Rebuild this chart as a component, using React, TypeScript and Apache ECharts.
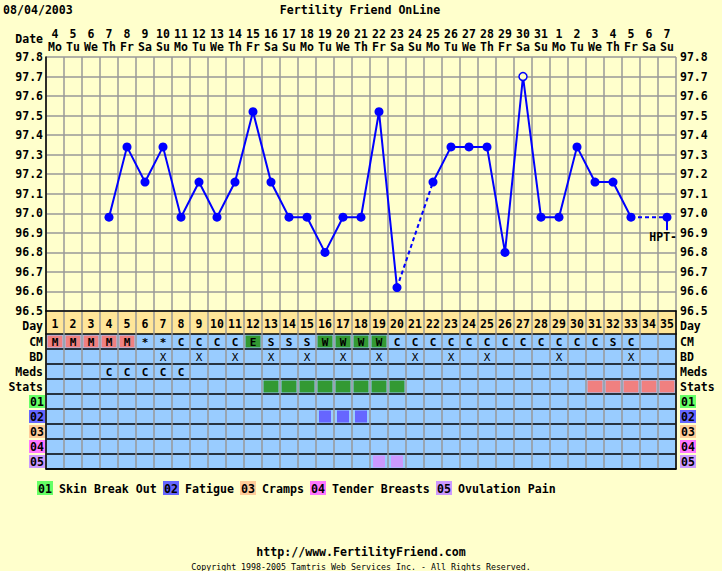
import React, { useEffect, useRef } from 'react';
import * as echarts from 'echarts';

const dateNums = ['4','5','6','7','8','9','10','11','12','13','14','15','16','17','18','19','20','21','22','23','24','25','26','27','28','29','30','31','1','2','3','4','5','6','7'];
const weekdays = ['Mo','Tu','We','Th','Fr','Sa','Su','Mo','Tu','We','Th','Fr','Sa','Su','Mo','Tu','We','Th','Fr','Sa','Su','Mo','Tu','We','Th','Fr','Sa','Su','Mo','Tu','We','Th','Fr','Sa','Su'];
const cycleDays = Array.from({ length: 35 }, (_, i) => String(i + 1));
const temps: (number | null)[] = [null, null, null, 96.98, 97.34, 97.16, 97.34, 96.98, 97.16, 96.98, 97.16, 97.52, 97.16, 96.98, 96.98, 96.8, 96.98, 96.98, 97.52, 96.62, null, 97.16, 97.34, 97.34, 97.34, 96.8, 97.7, 96.98, 96.98, 97.34, 97.16, 97.16, 96.98, null, 96.98];
const hollowDays = [27];
const hptDay = 35;
const hptLabel = 'HPT-';
const tempTicks = { min: 96.5, max: 97.8, interval: 0.1 };

const rowLabels = ['CM', 'BD', 'Meds', 'Stats', '01', '02', '03', '04', '05'];
const cmValues = ['M','M','M','M','M','*','*','C','C','C','C','E','S','S','S','W','W','W','W','C','C','C','C','C','C','C','C','C','C','C','C','S','C','',''];
const cmColors: Record<string, string> = { M: '#f08080', E: '#339933', W: '#339933' };
const bdDays = [7, 9, 11, 13, 15, 17, 19, 21, 23, 25, 29, 33];
const medsDays = [4, 5, 6, 7, 8];
const statsFertileDays = [13, 14, 15, 16, 17, 18, 19, 20];
const statsPredictedDays = [31, 32, 33, 34, 35];
const symptomCodes = ['01', '02', '03', '04', '05'];
const symptomNames = ['Skin Break Out', 'Fatigue', 'Cramps', 'Tender Breasts', 'Ovulation Pain'];
const symptomColors = ['#66ff66', '#6666ff', '#ffcc99', '#ff77ff', '#cc99ff'];
const symptomDays: number[][] = [[], [16, 17, 18], [], [], [19, 20]];

const FONT = '"DejaVu Sans Mono", monospace';
const BG = '#ffffcc';
const GRIDC = '#999999';
const BLUE = '#0000ff';

export default function App() {
  const ref = useRef<HTMLDivElement>(null);
  useEffect(() => {
    document.body.style.margin = '0';
    const chart = echarts.init(ref.current!, undefined, { renderer: 'svg' });

    type Cell = { x: number; y: number; text: string; fill: string; kind: string };
    const cells: Cell[] = [];
    cmValues.forEach((v, i) => {
      if (v) cells.push({ x: i, y: 0, text: v, fill: cmColors[v] || '', kind: 'cm' });
    });
    bdDays.forEach((d) => cells.push({ x: d - 1, y: 1, text: 'X', fill: '', kind: 'bd' }));
    medsDays.forEach((d) => cells.push({ x: d - 1, y: 2, text: 'C', fill: '', kind: 'cm' }));
    statsFertileDays.forEach((d) => cells.push({ x: d - 1, y: 3, text: '', fill: '#339933', kind: 'stat' }));
    statsPredictedDays.forEach((d) => cells.push({ x: d - 1, y: 3, text: '', fill: '#f08080', kind: 'stat' }));
    symptomDays.forEach((days, si) => days.forEach((d) => cells.push({ x: d - 1, y: 4 + si, text: '', fill: symptomColors[si], kind: 'sym' })));

    const lineData = temps.map((t, i) => {
      if (t == null) return null;
      if (hollowDays.includes(i + 1)) {
        return { value: t, symbolSize: 8, itemStyle: { color: BG, borderColor: BLUE, borderWidth: 1.5 } };
      }
      return t;
    });
    const gapSeries: any[] = [];
    for (let i = 0; i < temps.length; i++) {
      if (temps[i] != null && i + 1 < temps.length && temps[i + 1] == null) {
        let j = i + 1;
        while (j < temps.length && temps[j] == null) j++;
        if (j < temps.length) {
          const d = temps.map((t, k) => (k === i || k === j ? t : null));
          gapSeries.push({
            type: 'line', xAxisIndex: 0, yAxisIndex: 0, data: d, connectNulls: true, showSymbol: false,
            lineStyle: { color: BLUE, width: 2, type: [4, 3] }, z: 3, silent: true,
          });
        }
      }
    }

    const rich: any = {
      t: { fontFamily: FONT, fontWeight: 'bold', fontSize: 11.5, color: '#000', padding: [0, 2, 0, 0], lineHeight: 10 },
      tr: { fontFamily: FONT, fontWeight: 'bold', fontSize: 11.5, color: '#000', lineHeight: 10 },
    };
    symptomCodes.forEach((c, i) => {
      rich['s' + i] = { fontFamily: FONT, fontWeight: 'bold', fontSize: 11.5, color: '#000', backgroundColor: symptomColors[i], width: 16, height: 13, lineHeight: 13, align: 'center' };
    });
    const rowFmt = (right: boolean) => (v: string) => {
      const si = symptomCodes.indexOf(v);
      if (si >= 0) return `{s${si}|${v}}`;
      return `{${right ? 'tr' : 't'}|${v}}`;
    };
    const dayRich = {
      d: { fontFamily: FONT, fontWeight: 'bold', fontSize: 11.5, color: '#000', lineHeight: 11, padding: [7, 0, 0, 0] },
    };

    const legendEls: any[] = [];
    let lx = 37;
    symptomCodes.forEach((c, i) => {
      legendEls.push({ type: 'rect', shape: { x: lx, y: 481, width: 16, height: 14 }, style: { fill: symptomColors[i] } });
      legendEls.push({ type: 'text', x: lx + 8, y: 488.5, style: { text: c, fill: '#000', font: `bold 11.6px ${FONT}`, align: 'center', verticalAlign: 'middle' } });
      lx += 22;
      legendEls.push({ type: 'text', x: lx, y: 488.5, style: { text: symptomNames[i], fill: '#000', font: `bold 11.6px ${FONT}`, align: 'left', verticalAlign: 'middle' } });
      lx += symptomNames[i].length * 7 + 6;
    });

    const axisLbl = { fontFamily: FONT, fontWeight: 'bold' as const, fontSize: 11.5, color: '#000' };

    const option: any = {
      animation: false,
      backgroundColor: BG,
      grid: [
        { left: 46, top: 57, width: 630, height: 254, show: false },
        { left: 46, top: 311, width: 630, height: 23, show: true, backgroundColor: '#ffe699', borderWidth: 0 },
        { left: 46, top: 334, width: 630, height: 135, show: true, backgroundColor: '#99ccff', borderWidth: 0 },
      ],
      xAxis: [
        {
          type: 'category', gridIndex: 0, position: 'top', data: dateNums,
          axisLine: { show: false }, axisTick: { show: false },
          axisLabel: { ...axisLbl, interval: 0, margin: 4, lineHeight: 13, formatter: (v: string, i: number) => `${dateNums[i]}\n${weekdays[i]}` },
          splitLine: { show: true, lineStyle: { color: GRIDC, width: 1.5 } },
        },
        {
          type: 'category', gridIndex: 1, position: 'top', data: cycleDays,
          axisLine: { show: true, lineStyle: { color: '#000', width: 1.5 } }, axisTick: { show: false }, axisLabel: { show: false },
          splitLine: { show: true, lineStyle: { color: GRIDC, width: 1.5 } },
        },
        {
          type: 'category', gridIndex: 2, position: 'bottom', data: cycleDays,
          axisLine: { show: true, lineStyle: { color: '#000', width: 1.5 } }, axisTick: { show: false }, axisLabel: { show: false },
          splitLine: { show: true, lineStyle: { color: GRIDC, width: 1.5 } },
        },
      ],
      yAxis: [
        {
          type: 'value', gridIndex: 0, position: 'left', ...tempTicks,
          axisLine: { show: true, lineStyle: { color: '#000', width: 1.5 } }, axisTick: { show: false },
          axisLabel: { ...axisLbl, margin: 3, lineHeight: 10, formatter: (v: number) => v.toFixed(1) },
          splitLine: { show: true, lineStyle: { color: GRIDC, width: 1.5 } },
        },
        {
          type: 'value', gridIndex: 0, position: 'right', ...tempTicks,
          axisLine: { show: false }, axisTick: { show: false },
          axisLabel: { ...axisLbl, margin: 4, lineHeight: 10, formatter: (v: number) => v.toFixed(1) },
          splitLine: { show: false },
        },
        {
          type: 'category', gridIndex: 1, position: 'left', data: ['Day'],
          axisLine: { show: true, lineStyle: { color: '#000', width: 1.5 } }, axisTick: { show: false },
          axisLabel: { margin: 3, formatter: (v: string) => `{d|${v}}`, rich: dayRich }, splitLine: { show: false },
        },
        {
          type: 'category', gridIndex: 1, position: 'right', data: ['Day'],
          axisLine: { show: true, lineStyle: { color: '#000', width: 1.5 } }, axisTick: { show: false },
          axisLabel: { margin: 4, formatter: (v: string) => `{d|${v}}`, rich: dayRich }, splitLine: { show: false },
        },
        {
          type: 'category', gridIndex: 2, position: 'left', data: rowLabels, inverse: true,
          axisLine: { show: true, lineStyle: { color: '#000', width: 1.5 } }, axisTick: { show: false },
          axisLabel: { interval: 0, margin: 1, formatter: rowFmt(false), rich },
          splitLine: { show: true, lineStyle: { color: '#000', width: 1.5 } },
        },
        {
          type: 'category', gridIndex: 2, position: 'right', data: rowLabels, inverse: true,
          axisLine: { show: true, lineStyle: { color: '#000', width: 1.5 } }, axisTick: { show: false },
          axisLabel: { interval: 0, margin: 4, formatter: rowFmt(true), rich },
          splitLine: { show: false },
        },
      ],
      series: [
        {
          type: 'line', xAxisIndex: 0, yAxisIndex: 0, data: lineData, connectNulls: false,
          symbol: 'circle', symbolSize: 9, showAllSymbol: true,
          lineStyle: { color: BLUE, width: 2 }, itemStyle: { color: BLUE }, z: 4, silent: true,
        },
        ...gapSeries,
        {
          type: 'custom', xAxisIndex: 0, yAxisIndex: 0, z: 2, silent: true,
          data: [[hptDay - 1, temps[hptDay - 1]]],
          renderItem: (params: any, api: any) => {
            const c = api.coord([api.value(0), api.value(1)]);
            return {
              type: 'group',
              children: [
                { type: 'line', shape: { x1: c[0], y1: c[1], x2: c[0], y2: c[1] + 13 }, style: { stroke: BLUE, lineWidth: 2 } },
                { type: 'text', x: c[0] + 10, y: c[1] + 20, style: { text: hptLabel, fill: '#000', font: `bold 11.5px ${FONT}`, align: 'right', verticalAlign: 'middle' } },
              ],
            };
          },
        },
        {
          type: 'custom', xAxisIndex: 1, yAxisIndex: 2, silent: true,
          data: cycleDays.map((_, i) => [i, 0]),
          renderItem: (params: any, api: any) => {
            const c = api.coord([api.value(0), 0]);
            return { type: 'text', x: c[0], y: c[1] + 1.5, style: { text: cycleDays[params.dataIndex], fill: '#000', font: `bold 11.5px ${FONT}`, align: 'center', verticalAlign: 'middle' } };
          },
        },
        {
          type: 'custom', xAxisIndex: 2, yAxisIndex: 4, silent: true,
          data: cells.map((c) => [c.x, c.y]),
          renderItem: (params: any, api: any) => {
            const cell = cells[params.dataIndex];
            const c = api.coord([api.value(0), api.value(1)]);
            const s = api.size([1, 1]);
            const children: any[] = [];
            if (cell.fill) {
              const w = cell.kind === 'sym' ? 12 : s[0] - 3;
              const h = 12;
              children.push({ type: 'rect', shape: { x: c[0] - w / 2, y: c[1] - h / 2, width: w, height: h }, style: { fill: cell.fill } });
            }
            if (cell.text) {
              children.push({ type: 'text', x: c[0], y: c[1] + 0.5, style: { text: cell.text, fill: '#000', font: `${cell.kind === 'bd' ? 'normal' : 'bold'} 11px ${FONT}`, align: 'center', verticalAlign: 'middle' } });
            }
            return { type: 'group', children };
          },
        },
      ],
      graphic: [
        { type: 'text', x: 3, y: 10, style: { text: '08/04/2003', fill: '#000', font: `bold 11.6px ${FONT}`, align: 'left', verticalAlign: 'middle' } },
        { type: 'text', x: 360, y: 10, style: { text: 'Fertility Friend OnLine', fill: '#000', font: `bold 11.6px ${FONT}`, align: 'center', verticalAlign: 'middle' } },
        { type: 'text', x: 43, y: 39, style: { text: 'Date', fill: '#000', font: `bold 11.5px ${FONT}`, align: 'right', verticalAlign: 'middle' } },
        ...legendEls,
        { type: 'text', x: 361, y: 552, style: { text: 'http://www.FertilityFriend.com', fill: '#000', font: `bold 11.6px ${FONT}`, align: 'center', verticalAlign: 'middle' } },
        { type: 'text', x: 361, y: 567, style: { text: 'Copyright 1998-2005 Tamtris Web Services Inc. - All Rights Reserved.', fill: '#000', font: `8.3px ${FONT}`, align: 'center', verticalAlign: 'middle' } },
      ],
    };
    chart.setOption(option);
    return () => chart.dispose();
  }, []);
  return <div ref={ref} style={{ width: 722, height: 571 }} />;
}
